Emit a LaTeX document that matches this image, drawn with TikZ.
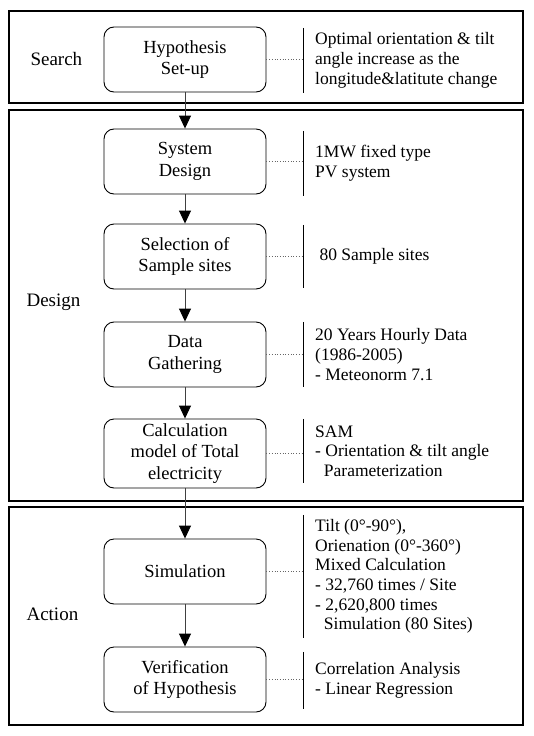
\documentclass[tikz,border=0pt]{standalone}
\usepackage{fontspec}
\setmainfont{Liberation Serif}
\usetikzlibrary{arrows.meta}
\begin{document}
\begin{tikzpicture}[x=1pt,y=-1pt,
  panel/.style={draw=black,line width=1.3pt},
  stepbox/.style={draw=black,line width=0.9pt,rounded corners=10pt,minimum width=162pt,minimum height=65pt,align=center,inner sep=2pt,font=\fontsize{18.5}{21.5}\selectfont},
  note/.style={anchor=west,align=left,inner xsep=12pt,inner ysep=0pt,font=\fontsize{17.5}{19.7}\selectfont},
  lbl/.style={anchor=west,font=\fontsize{19}{21}\selectfont},
  flow/.style={draw=black!75,line width=0.9pt,-{Triangle[width=12pt,length=13pt,fill=black,color=black]}},
  link/.style={draw=black!60,line width=0.7pt,dotted},
  bar/.style={draw=black,line width=0.9pt}]
\useasboundingbox (0,0) rectangle (534,736);
\fill[white] (0,0) rectangle (534,736);
% panels
\draw[panel] (9,11) rectangle (523,103);
\draw[panel] (9,110) rectangle (523,501);
\draw[panel] (9,507) rectangle (523,725);
% labels
\node[lbl] (lsearch) at (27,59) {Search};
\node[lbl] (ldesign) at (23,302) {Design};
\node[lbl] (laction) at (23,614) {Action};
% boxes
\node[stepbox] (hyp) at (185,59.5) {Hypothesis\\Set-up};
\node[stepbox] (sys) at (185,161.5) {System\\Design};
\node[stepbox] (sel) at (185,256.5) {Selection of\\Sample sites};
\node[stepbox] (dat) at (185,354.5) {Data\\Gathering};
\node[stepbox,minimum height=69pt] (cal) at (185,453.5) {Calculation\\model of Total\\electricity};
\node[stepbox] (sim) at (185,571.5) {Simulation};
\node[stepbox] (ver) at (185,679.5) {Verification\\of Hypothesis};
% notes
\node[note,minimum height=65pt] (nhyp) at (303,60.5) {Optimal orientation \& tilt\\angle increase as the\\longitude\&latitute change};
\node[note,minimum height=65pt] (nsys) at (303,163.5) {1MW fixed type\\PV system};
\node[note,minimum height=63pt] (nsel) at (303,256.5) {\ 80 Sample sites};
\node[note,minimum height=65pt] (ndat) at (303,354.5) {20 Years Hourly Data\\(1986-2005)\\- Meteonorm 7.1};
\node[note,minimum height=64pt] (ncal) at (303,451) {SAM\\- Orientation \& tilt angle\\\ \ Parameterization};
\node[note,minimum height=123pt] (nsim) at (303,576.5) {Tilt (0°-90°),\\Orienation (0°-360°)\\Mixed Calculation\\- 32,760 times / Site\\- 2,620,800 times\\\ \ Simulation (80 Sites)};
\node[note,minimum height=57pt] (nver) at (303,680.5) {Correlation Analysis\\- Linear Regression};
% bars and links
\foreach \b/\n in {hyp/nhyp,sys/nsys,sel/nsel,dat/ndat,cal/ncal,sim/nsim,ver/nver}{
  \draw[bar] (\n.north west) -- (\n.south west);
  \draw[link] (\b.east) -- (\b.east -| \n.west);
}
% flow
\draw[flow] (hyp) -- (sys);
\draw[flow] (sys) -- (sel);
\draw[flow] (sel) -- (dat);
\draw[flow] (dat) -- (cal);
\draw[flow] (cal) -- (sim);
\draw[flow] (sim) -- (ver);
\end{tikzpicture}
\end{document}
